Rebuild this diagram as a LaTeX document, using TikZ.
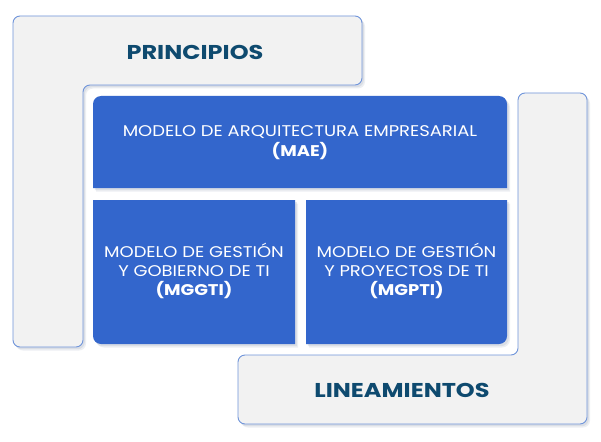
\documentclass[tikz,border=0pt]{standalone}
\usepackage{fontspec}
\setmainfont{Poppins}
\newfontfamily\boxfont[FakeStretch=1.16]{Poppins}
\newfontfamily\titlefont[FakeStretch=1.2]{Poppins}
\definecolor{boxblue}{HTML}{3366CC}
\definecolor{framec}{HTML}{6F94DA}
\definecolor{grayfill}{HTML}{F2F2F2}
\definecolor{titlec}{HTML}{0E4A6F}
\definecolor{shadowc}{HTML}{B8C0CF}
\newcommand\mkshape[2]{%
  \begin{scope}[shift={(3,3.5)}]\fill[shadowc,opacity=.25] #2;\end{scope}%
  \begin{scope}[shift={(1.8,2.2)}]\fill[shadowc,opacity=.35] #2;\end{scope}%
  \path[#1] #2;}
\tikzset{
  grayframe/.style={fill=grayfill,draw=framec,line width=0.9pt},
  bluebox/.style={fill=boxblue},
  titletext/.style={text=titlec,font=\titlefont\fontsize{20}{22}\selectfont\bfseries},
  boxtext/.style={text=white,align=center,font=\boxfont\fontsize{15.5}{19}\selectfont},
}
\begin{document}
\begin{tikzpicture}[x=1pt,y=-1pt]
\useasboundingbox (0,0) rectangle (601,441);
\fill[white] (0,0) rectangle (601,441);
% PRINCIPIOS frame
\mkshape{grayframe}{[rounded corners=7pt] (13,16) -- (362,16) -- (362,85) -- (83,85) -- (83,347) -- (13,347) -- cycle}
% LINEAMIENTOS frame
\mkshape{grayframe}{[rounded corners=7pt] (518,93) -- (587,93) -- (587,424) -- (238,424) -- (238,355) -- (518,355) -- cycle}
% blue boxes
\mkshape{bluebox}{(93,188) -- (93,104) .. controls (93,99.6) and (96.6,96) .. (101,96) -- (499,96) .. controls (503.4,96) and (507,99.6) .. (507,104) -- (507,188) -- cycle}
\mkshape{bluebox}{(93,200) -- (295,200) -- (295,344) -- (101,344) .. controls (96.6,344) and (93,340.4) .. (93,336) -- cycle}
\mkshape{bluebox}{(306,200) -- (507,200) -- (507,336) .. controls (507,340.4) and (503.4,344) .. (499,344) -- (306,344) -- cycle}
% texts
\node[titletext] (principios) at (195,52) {PRINCIPIOS};
\node[titletext] (lineamientos) at (402,390) {LINEAMIENTOS};
\node[boxtext,font=\boxfont\fontsize{15.5}{20}\selectfont] (mae) at (300,143) {MODELO DE ARQUITECTURA EMPRESARIAL\\\textbf{(MAE)}};
\node[boxtext] (mggti) at (194,271) {MODELO DE GESTIÓN\\Y GOBIERNO DE TI\\\textbf{(MGGTI)}};
\node[boxtext] (mgpti) at (406.5,271) {MODELO DE GESTIÓN\\Y PROYECTOS DE TI\\\textbf{(MGPTI)}};
\end{tikzpicture}
\end{document}
